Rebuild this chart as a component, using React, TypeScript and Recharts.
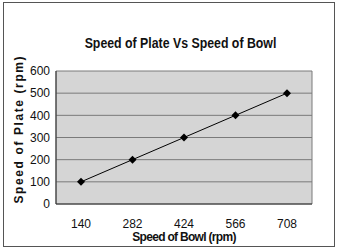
import { LineChart, Line, XAxis, YAxis, CartesianGrid } from "recharts";

const bowlSpeeds = ["140", "282", "424", "566", "708"];
const plateSpeeds = [100, 200, 300, 400, 500];
const plateTicks = [0, 100, 200, 300, 400, 500, 600];

const data = bowlSpeeds.map((bowl, i) => ({ bowl, plate: plateSpeeds[i] }));

const font = "'Liberation Sans', Arial, sans-serif";

// Excel-style filled diamond marker
const Diamond = (props: any) => {
  const { cx, cy, index } = props;
  if (cx == null || cy == null) return null;
  const r = 4;
  return (
    <path
      key={`d-${index}`}
      d={`M${cx},${cy - r} L${cx + r},${cy} L${cx},${cy + r} L${cx - r},${cy} Z`}
      fill="#000"
    />
  );
};

export default function App() {
  return (
    <div style={{ position: "fixed", left: 0, top: 0, width: 340, height: 250, background: "#fff", fontFamily: font }}>
      <div
        style={{
          position: "absolute",
          left: 3,
          top: 2,
          width: 330,
          height: 243,
          border: "1px solid #555",
        }}
      />
      <div
        style={{
          position: "absolute",
          left: 0,
          top: 35,
          width: 361,
          textAlign: "center",
          fontSize: 14,
          fontWeight: "bold",
          color: "#111",
          transform: "scaleX(0.88)",
          transformOrigin: "180.5px 0",
        }}
      >
        Speed of Plate Vs Speed of Bowl
      </div>
      <LineChart
        width={340}
        height={250}
        data={data}
        margin={{ top: 71, right: 28, bottom: 0, left: 16 }}
        style={{ position: "absolute", left: 0, top: 0 }}
      >
        <CartesianGrid
          vertical
          fill="#d5d5d5"
          stroke="#7a7a7a"
          verticalCoordinatesGenerator={({ offset }: any) => [offset.left, offset.left + offset.width]}
        />
        <XAxis
          dataKey="bowl"
          height={46}
          padding={{ left: 25, right: 25 }}
          tickLine={false}
          tickSize={0}
          axisLine={{ stroke: "#333" }}
          tick={{ fontSize: 12, fill: "#111", fontFamily: font }}
          tickMargin={15}
          label={{
            value: "Speed of Bowl (rpm)",
            position: "insideBottom",
            offset: 9,
            fontSize: 12,
            fontWeight: "bold",
            letterSpacing: -0.7,
            fill: "#111",
            fontFamily: font,
          }}
        />
        <YAxis
          width={40}
          domain={[0, 600]}
          ticks={plateTicks}
          interval={0}
          tickLine={false}
          tickSize={0}
          axisLine={{ stroke: "#333" }}
          tick={{ fontSize: 12, fill: "#111", fontFamily: font }}
          tickMargin={6}
          label={{
            value: "Speed of Plate (rpm)",
            angle: -90,
            position: "insideLeft",
            offset: 3,
            dy: 66,
            fontSize: 12,
            fontWeight: "bold",
            letterSpacing: 1.6,
            fill: "#111",
            fontFamily: font,
          }}
        />
        <Line
          type="linear"
          dataKey="plate"
          stroke="#000"
          strokeWidth={1}
          dot={Diamond}
          activeDot={false}
          isAnimationActive={false}
        />
      </LineChart>
    </div>
  );
}
